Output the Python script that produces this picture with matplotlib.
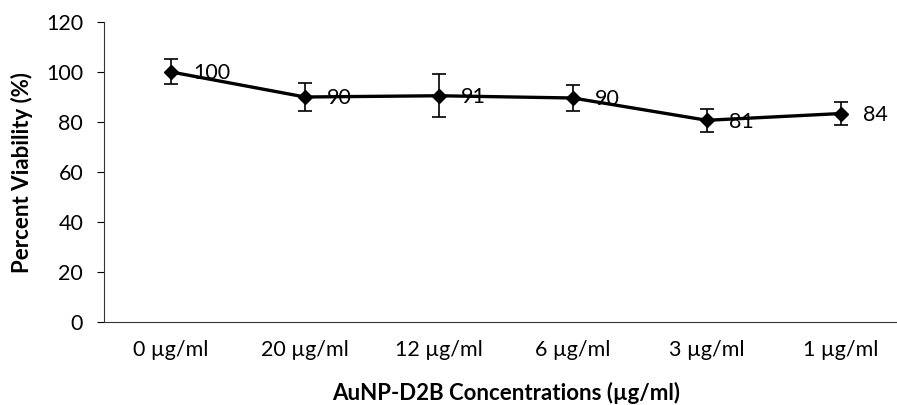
import numpy as np
import matplotlib.pyplot as plt

plt.rcParams['font.family'] = ['Lato', 'DejaVu Sans']

concs = ['0 µg/ml', '20 µg/ml', '12 µg/ml', '6 µg/ml', '3 µg/ml', '1 µg/ml']
viability = [100, 90, 90.5, 89.6, 80.7, 83.4]
errors = [5, 5.5, 8.6, 5, 4.5, 4.5]
labels = ['100', '90', '91', '90', '81', '84']

fig = plt.figure(figsize=(8.97, 4.05), dpi=100)
ax = fig.add_axes([0.116, 0.204, 0.896, 0.742])

x = np.arange(len(concs))
ax.errorbar(x, viability, yerr=errors, color='black', lw=2.4, marker='D', ms=7,
            elinewidth=1.2, capsize=5, capthick=1.2)
for xi, yi, lab in zip(x, viability, labels):
    ax.annotate(lab, (xi, yi), xytext=(16, -1), textcoords='offset points',
                ha='left', va='center', fontsize=15.5)

ax.set_xlim(-0.5, 5.5)
ax.set_ylim(0, 120)
ax.set_yticks(range(0, 121, 20))
ax.set_xticks(x)
ax.set_xticklabels(concs)
ax.tick_params(axis='y', labelsize=15.5, length=5, width=0.8, pad=10)
ax.tick_params(axis='x', labelsize=15.5, length=0, pad=13)
for s in ['top', 'right']:
    ax.spines[s].set_visible(False)
ax.spines['left'].set_color('#333333')
ax.spines['bottom'].set_color('#333333')

ax.set_ylabel('Percent Viability (%)', fontsize=16, fontweight='bold')
ax.yaxis.label.set_va('center')
ax.yaxis.set_label_coords(-(104 - 22) / 804, 0.5)
ax.set_xlabel('AuNP-D2B Concentrations (µg/ml)', fontsize=16, fontweight='bold')
ax.xaxis.label.set_va('center')
ax.xaxis.set_label_coords(0.5, -(393 - 322) / 300.5)

fig.savefig('out.png', dpi=100)
